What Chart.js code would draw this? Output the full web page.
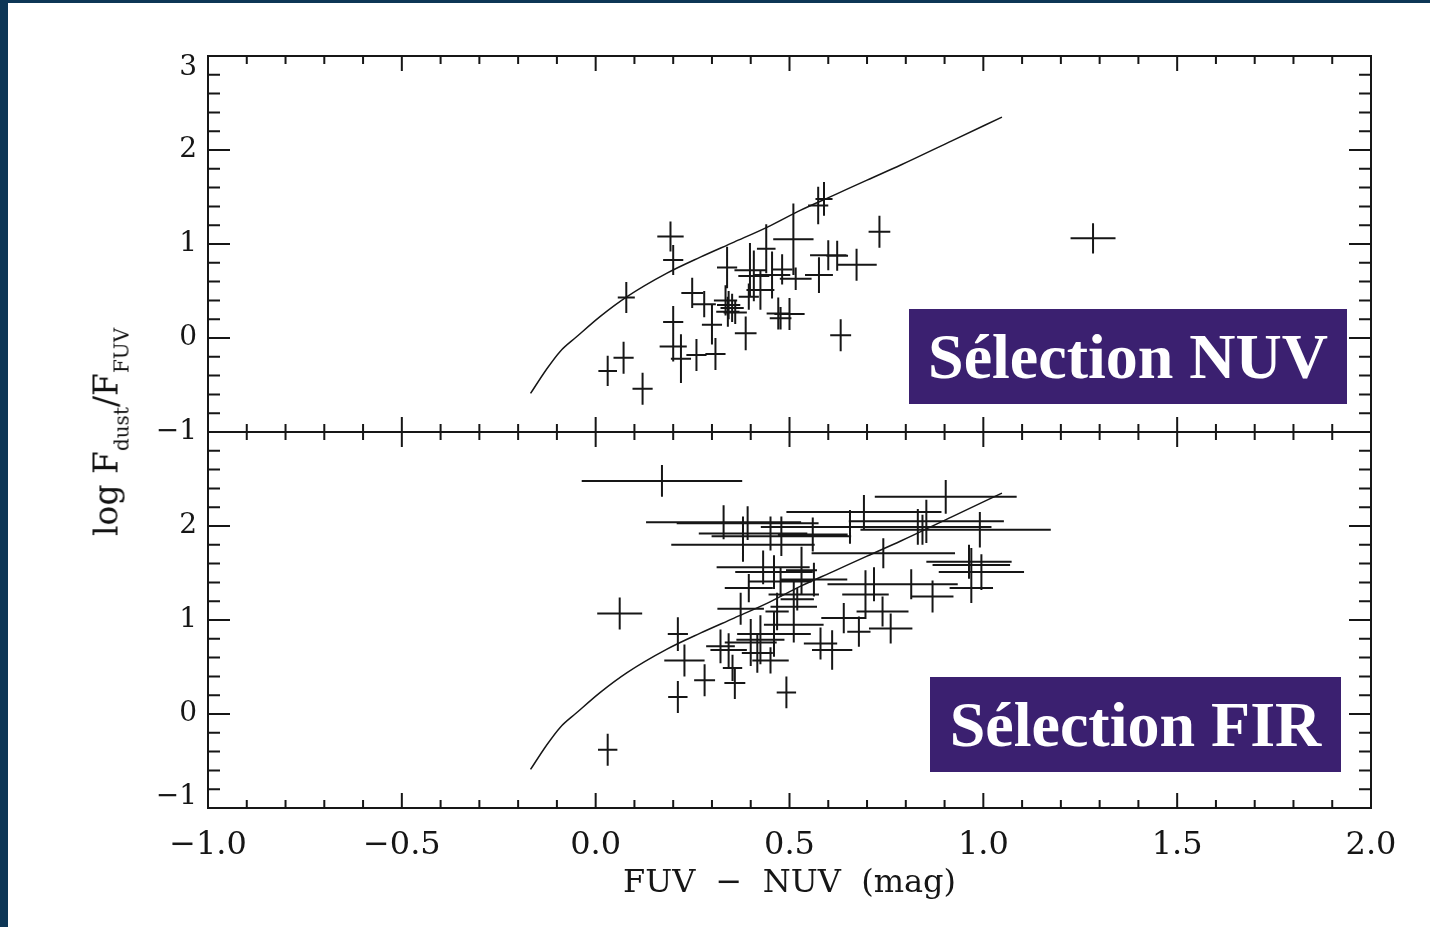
<!DOCTYPE html>
<html>
<head>
<meta charset="utf-8">
<script src="https://cdn.jsdelivr.net/npm/chart.js@4.4.1/dist/chart.umd.min.js"></script>
<style>
  body { margin: 0; background: #fff; }
  #wrap { position: relative; width: 1430px; height: 927px; overflow: hidden; background: #fff; }
  #frameL { position: absolute; left: 0; top: 0; width: 8px; height: 927px; background: #0d3656; }
  #frameT { position: absolute; left: 0; top: 0; width: 1430px; height: 3px; background: #0d3656; }
  .tag { position: absolute; background: #3b2070; color: #fff; font-family: "Liberation Serif", serif;
         font-weight: bold; font-size: 64px; line-height: 95px; height: 95px; text-align: center; white-space: nowrap; }
  #ytitle { position: absolute; left: 110px; top: 432px; transform: translate(-50%, -50%) rotate(-90deg);
            font-family: "DejaVu Serif", serif; font-size: 33px; white-space: nowrap; color: #111; }
  #ytitle span { font-size: 20px; vertical-align: -11px; }
</style>
</head>
<body>
<div id="wrap">
  <canvas id="irxChart"></canvas>
  <div id="frameL"></div>
  <div id="frameT"></div>
  <div id="ytitle">log F<span>dust</span>/F<span>FUV</span></div>
  <div class="tag" style="left:909px; top:309px; width:438px;">Sélection NUV</div>
  <div class="tag" style="left:930px; top:677px; width:411px;">Sélection FIR</div>
</div>
<script>
// model curve (same in both panels)
const curveX = [-0.168, -0.128, -0.091, -0.05, 0.012, 0.081, 0.184, 0.27, 0.357, 0.443, 0.529, 0.615, 0.70, 0.787, 0.92, 1.048];
const curveY = [-0.59, -0.34, -0.14, 0.01, 0.23, 0.44, 0.69, 0.86, 1.02, 1.18, 1.36, 1.52, 1.68, 1.84, 2.10, 2.35];

// NUV selection (top panel)
const nuvX    = [0.193, 0.200, 0.079, 0.031, 0.072, 0.121, 0.200, 0.200, 0.220, 0.249, 0.260, 0.309, 0.300, 0.280,
                 0.335, 0.343, 0.352, 0.341, 0.339, 0.387, 0.360, 0.395, 0.398, 0.408, 0.440, 0.425, 0.455, 0.481,
                 0.471, 0.477, 0.500, 0.510, 0.516, 0.574, 0.589, 0.576, 0.600, 0.623, 0.673, 0.632, 0.732, 1.283];
const nuvY    = [1.08, 0.83, 0.43, -0.35, -0.21, -0.54, 0.17, -0.09, -0.22, 0.48, -0.18, -0.17, 0.14, 0.36,
                 0.40, 0.35, 0.32, 0.28, 0.75, 0.05, 0.27, 0.44, 0.72, 0.66, 0.95, 0.51, 0.67, 0.73,
                 0.26, 0.21, 0.255, 1.05, 0.63, 1.41, 1.48, 0.67, 0.88, 0.875, 0.78, 0.03, 1.13, 1.06];
const nuvXErr = [0.034, 0.026, 0.022, 0.024, 0.026, 0.026, 0.026, 0.035, 0.026, 0.028, 0.026, 0.026, 0.026, 0.030,
                 0.030, 0.030, 0.030, 0.030, 0.026, 0.028, 0.030, 0.026, 0.040, 0.040, 0.024, 0.036, 0.047, 0.026,
                 0.030, 0.028, 0.039, 0.052, 0.041, 0.026, 0.022, 0.036, 0.047, 0.028, 0.052, 0.027, 0.028, 0.058];
const nuvYErr = [0.16, 0.16, 0.165, 0.16, 0.17, 0.17, 0.17, 0.16, 0.26, 0.16, 0.17, 0.17, 0.21, 0.14,
                 0.16, 0.15, 0.15, 0.16, 0.22, 0.18, 0.12, 0.14, 0.29, 0.27, 0.26, 0.21, 0.25, 0.16,
                 0.17, 0.12, 0.17, 0.38, 0.12, 0.20, 0.18, 0.19, 0.16, 0.16, 0.17, 0.17, 0.17, 0.16];

// FIR selection (bottom panel)
const firX    = [0.171, 0.062, 0.031, 0.212, 0.212, 0.229, 0.281, 0.359, 0.492, 0.330, 0.392, 0.380, 0.451, 0.479,
                 0.560, 0.380, 0.656, 0.692, 0.903, 0.831, 0.843, 0.853, 0.991, 0.742, 0.963, 0.969, 0.995, 0.969,
                 0.814, 0.869, 0.718, 0.696, 0.740, 0.761, 0.679, 0.640, 0.432, 0.531, 0.460, 0.395, 0.477, 0.563,
                 0.374, 0.511, 0.511, 0.468, 0.425, 0.460, 0.511, 0.417, 0.343, 0.322, 0.353, 0.451, 0.580, 0.610,
                 0.400, 0.520];
const firY    = [2.48, 1.07, -0.38, 0.85, 0.18, 0.57, 0.36, 0.33, 0.23, 2.04, 2.03, 1.92, 1.92, 1.89,
                 1.91, 1.80, 1.99, 2.15, 2.31, 1.99, 1.96, 2.05, 1.96, 1.71, 1.62, 1.585, 1.51, 1.34,
                 1.38, 1.25, 1.38, 1.27, 1.09, 0.91, 0.876, 1.02, 1.56, 1.53, 1.51, 1.34, 1.41, 1.43,
                 1.12, 1.27, 1.14, 1.09, 0.79, 0.85, 0.95, 0.65, 0.68, 0.72, 0.49, 0.57, 0.75, 0.68,
                 0.76, 1.22];
const firXErr = [0.207, 0.058, 0.025, 0.026, 0.025, 0.052, 0.027, 0.027, 0.025, 0.200, 0.183, 0.114, 0.095, 0.180,
                 0.090, 0.185, 0.230, 0.200, 0.183, 0.190, 0.160, 0.200, 0.183, 0.185, 0.110, 0.100, 0.110, 0.056,
                 0.120, 0.054, 0.120, 0.060, 0.067, 0.056, 0.030, 0.058, 0.120, 0.040, 0.100, 0.062, 0.080, 0.086,
                 0.060, 0.065, 0.060, 0.030, 0.062, 0.095, 0.077, 0.040, 0.047, 0.037, 0.025, 0.047, 0.043, 0.052,
                 0.067, 0.043];
const firYErr = [0.17, 0.17, 0.17, 0.18, 0.17, 0.17, 0.17, 0.17, 0.17, 0.18, 0.18, 0.18, 0.18, 0.21,
                 0.18, 0.18, 0.18, 0.18, 0.18, 0.19, 0.16, 0.23, 0.19, 0.16, 0.18, 0.18, 0.19, 0.16,
                 0.16, 0.17, 0.18, 0.26, 0.16, 0.16, 0.16, 0.16, 0.18, 0.25, 0.18, 0.15, 0.16, 0.18,
                 0.17, 0.14, 0.20, 0.20, 0.26, 0.24, 0.19, 0.21, 0.18, 0.18, 0.14, 0.14, 0.17, 0.21,
                 0.25, 0.12];

const xTickLabels = ["\u22121.0", "\u22120.5", "0.0", "0.5", "1.0", "1.5", "2.0"];
const yTickLabels = ["\u22121", "0", "1", "2", "3"];

const INK = "#161616";
const GAP = { x: NaN, y: NaN };

function crossSegments(xs, ys, xe, ye) {
  const pts = [];
  xs.forEach((x, i) => {
    pts.push({ x: x - xe[i], y: ys[i] }, { x: x + xe[i], y: ys[i] }, GAP);
    pts.push({ x: x, y: ys[i] - ye[i] }, { x: x, y: ys[i] + ye[i] }, GAP);
  });
  return pts;
}
const curvePts = curveX.map((x, i) => ({ x: x, y: curveY[i] }));

function yLabel(v) {
  return yTickLabels[Math.round(v) + 1];
}

// frame, inward ticks on all sides, and the two end labels PGPLOT nudges inside
const frameTicks = {
  id: "frameTicks",
  afterDatasetsDraw(chart) {
    const { ctx } = chart;
    const x = chart.scales.x;
    ctx.save();
    ctx.strokeStyle = INK;
    ctx.lineWidth = 2;
    for (const id of ["yTop", "yBot"]) {
      const y = chart.scales[id];
      const t = y.top, b = y.bottom, l = x.left, r = x.right;
      ctx.strokeRect(l, t, r - l, b - t);
      ctx.beginPath();
      for (let i = 0; i <= 30; i++) {
        const px = x.getPixelForValue(-1 + i * 0.1);
        const len = i % 5 === 0 ? 15 : 8;
        ctx.moveTo(px, b); ctx.lineTo(px, b - len);
        ctx.moveTo(px, t); ctx.lineTo(px, t + len);
      }
      for (let j = 0; j <= 20; j++) {
        const py = y.getPixelForValue(-1 + j * 0.2);
        const len = j % 5 === 0 ? 22 : 12;
        ctx.moveTo(l, py); ctx.lineTo(l + len, py);
        ctx.moveTo(r, py); ctx.lineTo(r - len, py);
      }
      ctx.stroke();
    }
    ctx.fillStyle = INK;
    ctx.font = "28px 'DejaVu Serif'";
    ctx.textAlign = "right";
    ctx.textBaseline = "middle";
    const yt = chart.scales.yTop, yb = chart.scales.yBot;
    ctx.fillText(yTickLabels[4], yt.right - 11, yt.getPixelForValue(3) + 12);
    ctx.fillText(yTickLabels[0], yb.right - 11, yb.getPixelForValue(-1) - 11);
    ctx.restore();
  }
};

// hidden: tick values whose label is drawn by the plugin or shared with the other panel
function yAxis(hidden) {
  return {
    type: "linear",
    position: "left",
    stack: "panels",
    stackWeight: 1,
    min: -1,
    max: 3,
    grid: { display: false, drawTicks: false },
    border: { display: false },
    ticks: {
      stepSize: 1,
      padding: 11,
      color: INK,
      font: { family: "DejaVu Serif", size: 28 },
      callback: v => hidden.includes(v) ? "" : yLabel(v)
    },
    afterFit(s) { s.width = 208; }
  };
}

const ctx = document.getElementById("irxChart");

new Chart(ctx, {
  type: "scatter",
  data: {
    datasets: [
      { data: curvePts, yAxisID: "yTop", showLine: true, borderColor: INK, borderWidth: 1.5,
        pointRadius: 0, cubicInterpolationMode: "monotone" },
      { data: crossSegments(nuvX, nuvY, nuvXErr, nuvYErr), yAxisID: "yTop", showLine: true,
        borderColor: INK, borderWidth: 2, pointRadius: 0, spanGaps: false },
      { data: curvePts, yAxisID: "yBot", showLine: true, borderColor: INK, borderWidth: 1.5,
        pointRadius: 0, cubicInterpolationMode: "monotone" },
      { data: crossSegments(firX, firY, firXErr, firYErr), yAxisID: "yBot", showLine: true,
        borderColor: INK, borderWidth: 2, pointRadius: 0, spanGaps: false }
    ]
  },
  options: {
    responsive: true,
    maintainAspectRatio: false,
    animation: false,
    layout: { padding: { left: 0, right: 59, top: 56, bottom: 0 } },
    plugins: { legend: { display: false }, tooltip: { enabled: false } },
    scales: {
      x: {
        type: "linear",
        position: "bottom",
        min: -1,
        max: 2,
        grid: { display: false, drawTicks: false },
        border: { display: false },
        ticks: {
          stepSize: 0.5,
          padding: 18,
          maxRotation: 0,
          autoSkip: false,
          color: INK,
          font: { family: "DejaVu Serif", size: 32 },
          callback: v => xTickLabels[Math.round((v + 1) * 2)]
        },
        title: {
          display: true,
          text: "FUV  \u2212  NUV  (mag)",
          color: INK,
          font: { family: "DejaVu Serif", size: 32 },
          padding: { top: 0, bottom: 24 }
        },
        afterFit(s) { s.height = 119; }
      },
      // left boxes in a stack are placed last-defined first, so the lower panel comes first here
      yBot: yAxis([3, -1]),
      yTop: yAxis([3])
    }
  },
  plugins: [frameTicks]
});
</script>
</body>
</html>
